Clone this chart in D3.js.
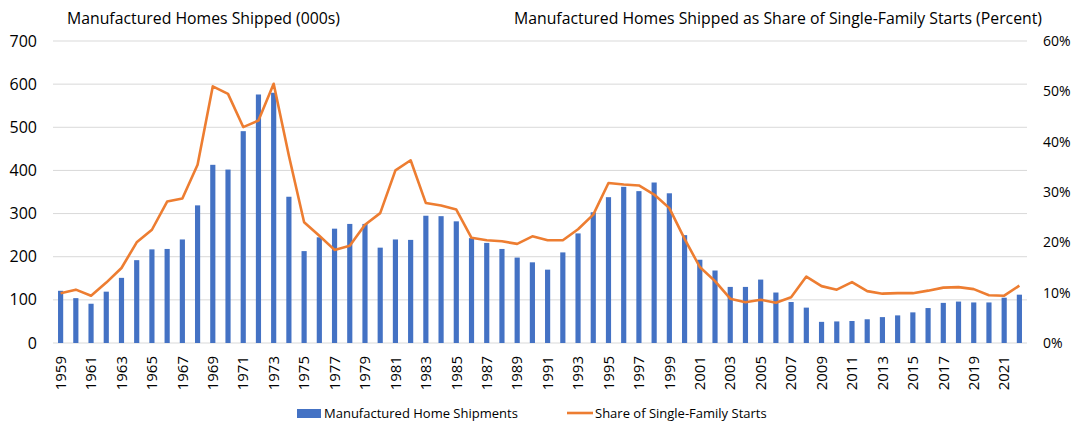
<!DOCTYPE html>
<html><head><meta charset="utf-8">
<script src="https://cdn.jsdelivr.net/npm/d3@7"></script>
<style>body{margin:0;background:#fff}svg{display:block}text{font-family:"Open Sans",sans-serif;fill:#000}</style>
</head><body><svg id="c" width="1073" height="423"></svg>
<script>
const years = d3.range(1959, 2023);
const shipments = [121,104,91,119,151,192,217,218,240,319,413,402,491,576,580,339,213,245,265,276,276,221,240,239,295,294,282,243,232,218,198,187,170,210,254,303,338,362,352,372,347,250,193,168,130,130,147,117,95,82,49,50,51,55,60,64,71,81,93,96,94,94,105,112];
const sharePct = [9.9,10.6,9.4,12.0,14.9,20.0,22.5,28.1,28.7,35.4,51.0,49.5,42.9,44.2,51.5,37.2,24.0,21.3,18.5,19.3,23.5,25.8,34.3,36.3,27.8,27.3,26.5,20.9,20.4,20.2,19.7,21.2,20.4,20.4,22.6,25.5,31.8,31.5,31.3,29.5,26.8,20.7,15.1,12.3,8.8,8.1,8.6,8.0,9.1,13.2,11.3,10.6,12.1,10.3,9.8,9.9,9.9,10.4,11.0,11.1,10.7,9.5,9.4,11.4];
const leftTicks = [0,100,200,300,400,500,600,700];
const rightTicks = [0,0.1,0.2,0.3,0.4,0.5,0.6];
const titleLeft = "Manufactured Homes Shipped (000s)";
const titleRight = "Manufactured Homes Shipped as Share of Single-Family Starts (Percent)";
const legendBar = "Manufactured Home Shipments";
const legendLine = "Share of Single-Family Starts";

const svg = d3.select("#c");
const pL = 53, pR = 1027, pT = 41, pB = 343;
const x = d3.scaleBand().domain(years).range([pL, pR]).paddingInner(0.66).paddingOuter(0.33);
const yL = d3.scaleLinear().domain([0,700]).range([pB, pT]);
const yR = d3.scaleLinear().domain([0,0.6]).range([pB, pT]);
const blue = "#4472C4", orange = "#ED7D31";

svg.append("g").selectAll("line").data(leftTicks).join("line")
  .attr("x1", pL).attr("x2", pR)
  .attr("y1", d => yL(d)).attr("y2", d => yL(d))
  .attr("stroke", "#d9d9d9").attr("stroke-width", 1);

const gl = svg.append("g").attr("transform", `translate(${pL - 16},0)`)
  .call(d3.axisLeft(yL).tickValues(leftTicks).tickSize(0).tickPadding(0));
gl.select(".domain").remove();
gl.selectAll("text").style("font-size", "16px").style("font-family", '"Open Sans",sans-serif').attr("fill", "#000");

const gr = svg.append("g").attr("transform", `translate(${pR + 16},0)`)
  .call(d3.axisRight(yR).tickValues(rightTicks).tickFormat(d3.format(".0%")).tickSize(0).tickPadding(0));
gr.select(".domain").remove();
gr.selectAll("text").style("font-size", "14px").style("font-family", '"Open Sans",sans-serif').attr("fill", "#000");

svg.append("g").selectAll("rect").data(years).join("rect")
  .attr("x", d => x(d)).attr("width", x.bandwidth())
  .attr("y", (d,i) => yL(shipments[i])).attr("height", (d,i) => yL(0) - yL(shipments[i]))
  .attr("fill", blue);

const line = d3.line().x(d => x(d[0]) + x.bandwidth()/2).y(d => yR(d[1]/100));
svg.append("path").datum(years.map((y,i) => [y, sharePct[i]]))
  .attr("d", line).attr("fill", "none").attr("stroke", orange).attr("stroke-width", 2.6).attr("stroke-linejoin", "round");

const gx = svg.append("g").attr("transform", `translate(0,${pB + 13})`)
  .call(d3.axisBottom(x).tickValues(years.filter(y => (y - 1959) % 2 === 0)).tickSize(0).tickPadding(0));
gx.select(".domain").remove();
gx.selectAll("text").attr("transform", "rotate(-90)").attr("text-anchor", "end")
  .attr("x", 0).attr("y", 0).attr("dy", "0.35em")
  .style("font-size", "15px").style("font-family", '"Open Sans",sans-serif').attr("fill", "#000");

svg.append("text").attr("x", 67).attr("y", 24).style("font-size", "15.8px").text(titleLeft);
svg.append("text").attr("x", 1042).attr("y", 24).attr("text-anchor", "end").style("font-size", "15.8px").text(titleRight);

svg.append("rect").attr("x", 297).attr("y", 409).attr("width", 24).attr("height", 9).attr("fill", blue);
svg.append("text").attr("x", 324).attr("y", 418).style("font-size", "13px").text(legendBar);
svg.append("line").attr("x1", 567).attr("x2", 593).attr("y1", 413).attr("y2", 413).attr("stroke", orange).attr("stroke-width", 2.6);
svg.append("text").attr("x", 595).attr("y", 418).style("font-size", "13px").text(legendLine);
</script></body></html>
